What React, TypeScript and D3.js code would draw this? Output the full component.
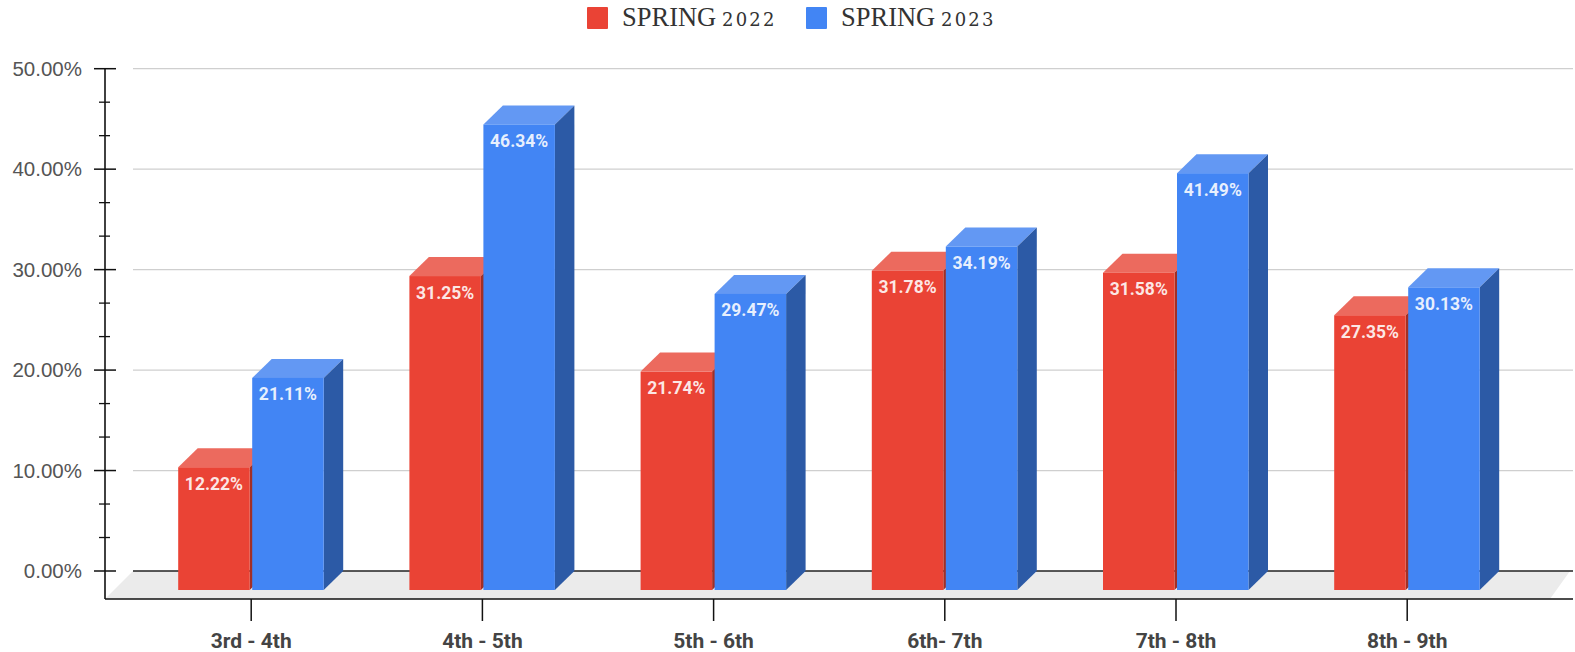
import React from 'react';
import * as d3 from 'd3';

const categories = ['3rd - 4th', '4th - 5th', '5th - 6th', '6th- 7th', '7th - 8th', '8th - 9th'];
const seriesNames = ['SPRING 2022', 'SPRING 2023'];
const spring2022 = [12.22, 31.25, 21.74, 31.78, 31.58, 27.35];
const spring2023 = [21.11, 46.34, 29.47, 34.19, 41.49, 30.13];
const majorTicks = [0, 10, 20, 30, 40, 50];

const WIDTH = 1575;
const HEIGHT = 652;
const DEPTH_X = 19.5;
const DEPTH_Y = 19;
const AXIS_X = 105;
const AXIS_Y = 599;
const GRID_LEFT = 133;
const GRID_RIGHT = 1573;

const palette = [
  { front: '#EA4335', top: '#EC6A5E', side: '#A32F25' },
  { front: '#4285F4', top: '#6398F3', side: '#2C5AA6' },
];

const minorTicks = d3.range(0, 50).flatMap(i =>
  i % 10 === 0 ? [i + 10 / 3, i + 20 / 3] : []
);

export default function App() {
  const y = d3.scaleLinear().domain([0, 50]).range([571, 68.7]);
  const x0 = d3.scaleBand<string>().domain(categories).range([135.6, 1522.8]);
  const x1 = d3.scaleBand<string>().domain(seriesNames).range([-73, 75]);
  const barW = 71.5;
  const base = y(0) + DEPTH_Y;
  const pct = d3.format('.2f');

  const floor = d3.line()([
    [AXIS_X, AXIS_Y],
    [AXIS_X + 28, y(0)],
    [GRID_RIGHT - 3, y(0)],
    [GRID_RIGHT - 23, AXIS_Y],
  ]) + 'Z';

  return (
    <svg
      width={WIDTH}
      height={HEIGHT}
      style={{ position: 'absolute', left: 0, top: 0, background: '#fff' }}
    >
      {/* Legend: the digits are set small to look like old-style figures */}
      {seriesNames.map((name, i) => {
        const lx = [587, 806][i];
        const [word, year] = name.split(' ');
        return (
          <g key={name}>
            <rect x={lx} y={7} width={21} height={22} rx={1} fill={palette[i].front} />
            <text x={lx + 35} y={25.5} fontFamily="'Liberation Serif', serif" fontSize={26.5} fill="#333">
              {word}
            </text>
            <text
              x={lx + 135}
              y={25.5}
              fontFamily="'DejaVu Serif', serif"
              fontSize={18}
              letterSpacing={2.2}
              fill="#333"
            >
              {year}
            </text>
          </g>
        );
      })}

      {/* Floor */}
      <path d={floor} fill="#EBEBEB" />

      {/* Grid */}
      {majorTicks.map(t => (
        <line
          key={t}
          x1={GRID_LEFT}
          x2={GRID_RIGHT}
          y1={y(t)}
          y2={y(t)}
          stroke={t === 0 ? '#222' : '#CFCFCF'}
          strokeWidth={t === 0 ? 1.5 : 1.3}
        />
      ))}

      {/* Y axis */}
      <line x1={AXIS_X} x2={AXIS_X} y1={y(50)} y2={AXIS_Y} stroke="#111" strokeWidth={1.6} />
      {majorTicks.map(t => (
        <g key={t}>
          <line x1={94} x2={116} y1={y(t)} y2={y(t)} stroke="#111" strokeWidth={1.5} />
          <text
            x={82}
            y={y(t) + 7}
            textAnchor="end"
            fontFamily="'Liberation Sans', Arial, sans-serif"
            fontSize={20.5}
            fill="#555"
          >
            {pct(t)}%
          </text>
        </g>
      ))}
      {minorTicks.map(t => (
        <line key={t} x1={99} x2={110} y1={y(t)} y2={y(t)} stroke="#111" strokeWidth={1.3} />
      ))}

      {/* X axis */}
      <line x1={AXIS_X} x2={GRID_RIGHT} y1={AXIS_Y} y2={AXIS_Y} stroke="#111" strokeWidth={1.6} />
      {categories.map(c => {
        const cx = (x0(c) as number) + x0.bandwidth() / 2;
        return (
          <g key={c}>
            <line x1={cx} x2={cx} y1={AXIS_Y} y2={621} stroke="#111" strokeWidth={1.5} />
            <text
              x={cx}
              y={648}
              textAnchor="middle"
              fontFamily="Roboto, sans-serif"
              fontWeight={700}
              fontSize={21}
              fill="#444"
            >
              {c}
            </text>
          </g>
        );
      })}

      {/* Bars */}
      {categories.map((c, ci) => {
        const cx = (x0(c) as number) + x0.bandwidth() / 2;
        return [spring2022[ci], spring2023[ci]].map((v, si) => {
          const left = cx + (x1(seriesNames[si]) as number);
          const right = left + barW;
          const top = y(v) + DEPTH_Y;
          const col = palette[si];
          const line = d3.line();
          return (
            <g key={c + si}>
              <path
                d={line([[left, top], [left + DEPTH_X, top - DEPTH_Y], [right + DEPTH_X, top - DEPTH_Y], [right, top]]) + 'Z'}
                fill={col.top}
              />
              <path
                d={line([[right, top], [right + DEPTH_X, top - DEPTH_Y], [right + DEPTH_X, base - DEPTH_Y], [right, base]]) + 'Z'}
                fill={col.side}
              />
              <rect x={left} y={top} width={barW} height={base - top} fill={col.front} />
              <text
                x={(left + right) / 2}
                y={top + 22.5}
                textAnchor="middle"
                fontFamily="Roboto, sans-serif"
                fontWeight={700}
                fontSize={17.5}
                fill="#fff"
                fillOpacity={0.88}
              >
                {pct(v)}%
              </text>
            </g>
          );
        });
      })}
    </svg>
  );
}
